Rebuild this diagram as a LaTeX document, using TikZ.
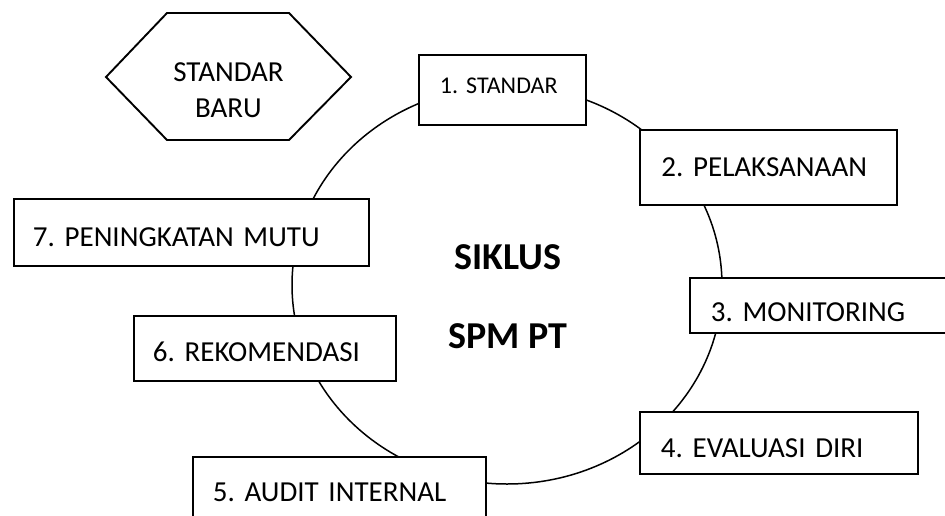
\documentclass[tikz,border=0pt]{standalone}
\usepackage{fontspec}
\setmainfont{Carlito}
\frenchspacing
\begin{document}
\begin{tikzpicture}[x=1pt,y=-1pt,
  stage/.style={draw=black, line width=1.9pt, fill=white, anchor=north west,
    inner xsep=0pt, inner ysep=0pt, align=left,
    font=\fontsize{29}{35}\selectfont},
  ring/.style={draw=black, line width=1.5pt},
  hexline/.style={draw=black, line width=1.9pt, line join=miter},
  hextext/.style={anchor=north, inner sep=0pt, align=center,
    font=\fontsize{29}{36}\selectfont},
  title/.style={anchor=north, inner sep=0pt, align=center,
    font=\fontsize{38}{79}\selectfont\bfseries}]
\useasboundingbox (0,0) rectangle (945,515);
\clip (0,0) rectangle (945,515);

% cycle ring
\draw[ring] (507,285) ellipse [x radius=215pt, y radius=199pt];

% new standard hexagon
\coordinate (h1) at (106,77);
\coordinate (h2) at (167,13);
\coordinate (h3) at (289,13);
\coordinate (h4) at (351,77);
\coordinate (h5) at (289,140);
\coordinate (h6) at (167,140);
\draw[hexline] (h1) -- (h2) -- (h3) -- (h4) -- (h5) -- (h6) -- cycle;
\node[hextext] (baru) at (228.5,62.5) {STANDAR\\BARU};

% stages
\node[stage, text width=167pt, text height=39pt, text depth=31pt,
  font=\fontsize{24}{29}\selectfont] (s1) at (418,54) {\hspace*{21pt}1. STANDAR};
\node[stage, text width=257pt, text height=47pt, text depth=28pt] (s2) at (639,129) {\hspace*{21.5pt}2. PELAKSANAAN};
\node[stage, text width=280pt, text height=44pt, text depth=11pt] (s3) at (689,277) {\hspace*{21pt}3. MONITORING};
\node[stage, text width=278pt, text height=46pt, text depth=16pt] (s4) at (639,411) {\hspace*{21pt}4. EVALUASI DIRI};
\node[stage, text width=293pt, text height=45pt, text depth=35pt] (s5) at (192,456) {\hspace*{20pt}5. AUDIT INTERNAL};
\node[stage, text width=262pt, text height=46pt, text depth=19pt] (s6) at (133,315) {\hspace*{19pt}6. REKOMENDASI};
\node[stage, text width=355pt, text height=48pt, text depth=19pt] (s7) at (13,198) {\hspace*{19pt}7. PENINGKATAN MUTU};

% title
\node[title] (judul) at (508,244.5) {SIKLUS\\SPM PT};
\end{tikzpicture}
\end{document}
